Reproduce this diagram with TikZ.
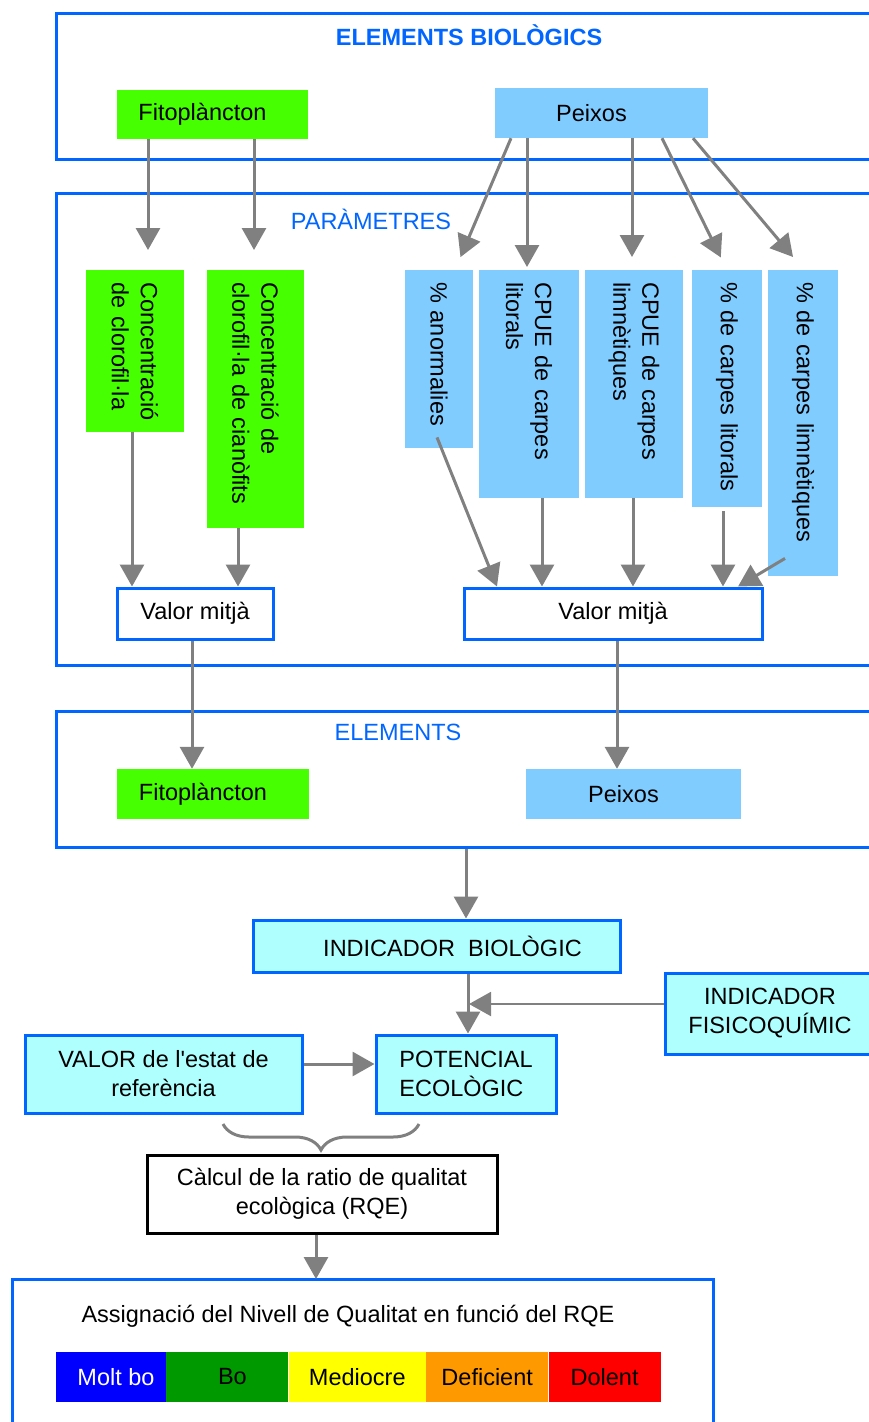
\documentclass[tikz,border=0pt]{standalone}
\usepackage{fontspec}
\setmainfont{Liberation Sans}
\usetikzlibrary{arrows.meta,calc,decorations.pathreplacing,positioning}
\definecolor{frameblue}{RGB}{0,102,255}
\definecolor{fitogreen}{RGB}{70,255,0}
\definecolor{peixblue}{RGB}{128,204,255}
\definecolor{indcyan}{RGB}{175,255,255}
\definecolor{arrowgray}{RGB}{128,128,128}
\definecolor{lvlMoltBo}{RGB}{0,0,255}
\definecolor{lvlBo}{RGB}{0,153,0}
\definecolor{lvlMediocre}{RGB}{255,255,0}
\definecolor{lvlDeficient}{RGB}{255,153,0}
\definecolor{lvlDolent}{RGB}{255,0,0}
\tikzstyle{frame} = [rectangle, draw=frameblue, line width=3pt, anchor=north west, inner sep=0pt]
\tikzstyle{frameTitle} = [text=frameblue]
\tikzstyle{fitoBlock} = [rectangle, fill=fitogreen, inner sep=0pt]
\tikzstyle{peixBlock} = [rectangle, fill=peixblue, inner sep=0pt]
\tikzstyle{param} = [rectangle, rotate=-90, anchor=west, align=left, inner xsep=12pt, inner ysep=0pt]
\tikzstyle{mean} = [rectangle, draw=frameblue, line width=3pt, fill=white, minimum height=51pt]
\tikzstyle{indicator} = [rectangle, draw=frameblue, line width=3pt, fill=indcyan, inner sep=0pt]
\tikzstyle{level} = [rectangle, minimum height=50pt, inner sep=0pt]
\tikzstyle{flowArrow} = [draw=arrowgray, line width=3pt, -{Triangle[width=24pt,length=22pt]}]
\tikzstyle{braceLine} = [draw=arrowgray, line width=3pt, decorate, decoration={brace, mirror, amplitude=26pt}]

\begin{document}
\begin{tikzpicture}[x=1pt, y=-1pt, font=\fontsize{23.5}{29}\selectfont]
		\useasboundingbox (0,0) rectangle (869,1422);
		\clip (0,0) rectangle (869,1422);

		%frames
		\node[frame, minimum width=830pt, minimum height=146pt](frameBio) at (55,12){};
		\node[frame, minimum width=830pt, minimum height=472pt](frameParam) at (55,192){};
		\node[frame, minimum width=830pt, minimum height=136pt](frameElem) at (55,710){};
		\node[frame, line width=2.5pt, minimum width=701pt, minimum height=170pt](frameQual) at (11,1278){};
		\node[frameTitle](titleBio) at (469,35){\textbf{ELEMENTS BIOLÒGICS}};
		\node[frameTitle](titleParam) at (371,219){PARÀMETRES};
		\node[frameTitle](titleElem) at (398,732){ELEMENTS};

		%biological elements
		\node[fitoBlock, minimum width=191pt, minimum height=49pt](fito) at (212.5,114.5){Fitoplàncton\hspace*{20pt}};
		\node[peixBlock, minimum width=213pt, minimum height=50pt](peixos) at (601.5,113){Peixos\hspace*{20pt}};

		%parameters
		\node[param, fill=fitogreen, minimum width=162pt, text width=138pt, minimum height=98pt](concA) at (135,270){Concentració\\de clorofil·la};
		\node[param, fill=fitogreen, minimum width=258pt, text width=234pt, minimum height=97pt](concB) at (255.5,270){Concentració de\\clorofil·la de cianòfits};
		\node[param, fill=peixblue, minimum width=178pt, text width=154pt, minimum height=68pt](anorm) at (439,270){\% anormalies};
		\node[param, fill=peixblue, minimum width=228pt, text width=204pt, minimum height=100pt](cpueLit) at (529,270){CPUE de carpes\\litorals};
		\node[param, fill=peixblue, minimum width=228pt, text width=204pt, minimum height=98pt](cpueLim) at (634,270){CPUE de carpes\\limnètiques};
		\node[param, fill=peixblue, minimum width=237pt, text width=213pt, minimum height=70pt](carpLit) at (727,270){\% de carpes litorals};
		\node[param, fill=peixblue, minimum width=306pt, text width=282pt, minimum height=70pt](carpLim) at (803,270){\% de carpes limnètiques};
		\node[mean, minimum width=156pt](meanFito) at (195,613.5){Valor mitjà};
		\node[mean, minimum width=298pt](meanPeix) at (613,613.5){Valor mitjà};

		%elements
		\node[fitoBlock, minimum width=192pt, minimum height=50pt](fitoElem) at (213,794){Fitoplàncton\hspace*{20pt}};
		\node[peixBlock, minimum width=215pt, minimum height=50pt](peixElem) at (633.5,794){Peixos\hspace*{20pt}};

		%indicators
		\node[indicator, minimum width=367pt, minimum height=52pt](indBio) at (436.5,946){\hspace*{32pt}INDICADOR\ \ BIOLÒGIC};
		\node[indicator, align=center, minimum width=210pt, minimum height=81pt](indFis) at (770,1013.5){INDICADOR\\FISICOQUÍMIC};
		\node[indicator, align=center, minimum width=277pt, minimum height=78pt](valorRef) at (163.5,1074){VALOR de l\textquotesingle estat de\\referència};
		\node[indicator, align=left, minimum width=180pt, minimum height=78pt](potencial) at (466,1074){POTENCIAL\\ECOLÒGIC};
		\node[rectangle, draw=black, line width=3pt, fill=white, align=center, minimum width=350pt, minimum height=78pt](calcul) at (322,1194){Càlcul de la ratio de qualitat\\ecològica (RQE)};
		\coordinate (merge) at (469,1004);

		%quality levels
		\node(assign) at (348,1316){Assignació del Nivell de Qualitat en funció del RQE};
		\node[level, fill=lvlMoltBo, text=white, minimum width=110pt](moltbo) at (111,1377){\hspace*{10pt}Molt bo};
		\node[level, fill=lvlBo, minimum width=122pt, right=0pt of moltbo](bo){\hspace*{10pt}Bo};
		\node[level, fill=lvlMediocre, minimum width=137pt, right=0pt of bo](mediocre){Mediocre};
		\node[level, fill=lvlDeficient, minimum width=122pt, right=0pt of mediocre](deficient){Deficient};
		\node[level, fill=lvlDolent, minimum width=112pt, right=0pt of deficient](dolent){Dolent};

		%arrows
		\draw[flowArrow, shorten >=20pt](148,0 |- fito.south)--(148,0 |- concA.west);
		\draw[flowArrow, shorten >=20pt](254,0 |- fito.south)--(254,0 |- concB.west);
		\draw[flowArrow, shorten >=14pt](511,0 |- peixos.south)--(455,0 |- anorm.west);
		\draw[flowArrow, shorten >=3pt](527,0 |- peixos.south)--(527,0 |- cpueLit.west);
		\draw[flowArrow, shorten >=13pt](632,0 |- peixos.south)--(632,0 |- cpueLim.west);
		\draw[flowArrow, shorten >=14pt](662,0 |- peixos.south)--(727,0 |- carpLit.west);
		\draw[flowArrow, shorten >=17pt](693,0 |- peixos.south)--(804,0 |- carpLim.west);

		\draw[flowArrow](132,0 |- concA.east)--(132,0 |- meanFito.north);
		\draw[flowArrow](238,0 |- concB.east)--(238,0 |- meanFito.north);
		\draw[flowArrow]($(anorm.east)+(-2,-11)$)--(497,0 |- meanPeix.north);
		\draw[flowArrow](542,0 |- cpueLit.east)--(542,0 |- meanPeix.north);
		\draw[flowArrow](633,0 |- cpueLim.east)--(633,0 |- meanPeix.north);
		\draw[flowArrow, shorten <=4pt](723,0 |- carpLit.east)--(723,0 |- meanPeix.north);
		\draw[flowArrow]($(carpLim.east)+(-18,-18)$)--(738,0 |- meanPeix.north);

		\draw[flowArrow](192,0 |- meanFito.south)--(192,0 |- fitoElem.north);
		\draw[flowArrow](617,0 |- meanPeix.south)--(617,0 |- peixElem.north);
		\draw[flowArrow](466,0 |- frameElem.south)--(466,0 |- indBio.north);
		\draw[flowArrow](468,0 |- indBio.south)--(468,0 |- potencial.north);
		\draw[flowArrow, line width=2pt](indFis.west |- merge)--(merge);
		\draw[flowArrow]($(valorRef.east)+(0,-10)$)--($(potencial.west)+(0,-10)$);
		\draw[braceLine](223,1124)--(419,1124);
		\draw[flowArrow, shorten >=-1pt](316,0 |- calcul.south)--(316,0 |- frameQual.north);
\end{tikzpicture}
\end{document}
